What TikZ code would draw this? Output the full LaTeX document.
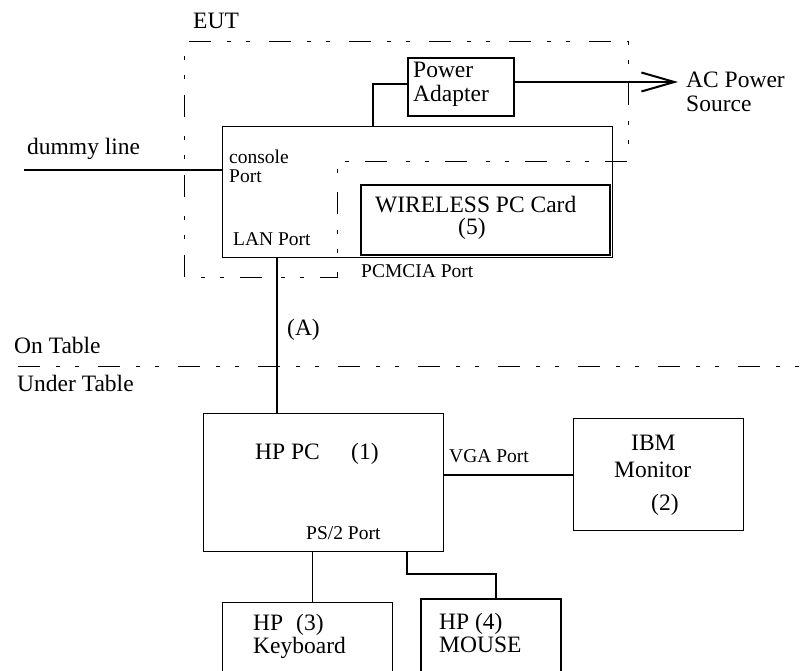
\documentclass[tikz,border=0pt]{standalone}
\usepackage{fontspec}
\setmainfont{Liberation Serif}
\usetikzlibrary{arrows.meta}
\begin{document}
\begin{tikzpicture}[x=1pt,y=-1pt,
  box/.style={draw, line width=1pt, inner sep=0pt, anchor=north west},
  thickbox/.style={box, line width=2pt},
  wire/.style={line width=2pt},
  thinwire/.style={line width=1pt},
  bigtxt/.style={anchor=base west, inner sep=0pt, font=\fontsize{23.5}{24}\selectfont},
  smalltxt/.style={anchor=base west, inner sep=0pt, font=\fontsize{19.5}{20}\selectfont},
  ddot/.style={line width=1pt, dash pattern=on 22pt off 16pt on 4pt off 15pt on 4pt off 19pt}
]
\clip (0,0) rectangle (811,671);

% boxes
\node[box, minimum width=390pt, minimum height=131pt] (eut) at (222,126) {};
\node[thickbox, minimum width=106pt, minimum height=58pt] (adapter) at (407,57) {};
\node[thickbox, minimum width=249pt, minimum height=70pt] (card) at (360,184) {};
\node[box, minimum width=240pt, minimum height=138pt] (pc) at (203,413) {};
\node[box, minimum width=170pt, minimum height=112pt] (monitor) at (573,418) {};
\node[box, minimum width=170pt, minimum height=90pt] (kbd) at (222,602) {};
\node[thickbox, minimum width=140pt, minimum height=90pt] (mouse) at (420,598) {};

% EUT boundary
\draw[ddot] (184,277) -- (184,42) -- (628,42) -- (628,162) -- (337,162) -- (337,277) -- cycle;

% table line
\coordinate (tl) at (18,366);
\coordinate (tr) at (811,366);
\draw[ddot] (tl) -- (tr);

% texts
\node[bigtxt] (teut) at (193,29) {EUT};
\node[bigtxt] (tpow1) at (413,78) {Power};
\node[bigtxt] (tpow2) at (413,102) {Adapter};
\node[bigtxt] (tac1) at (686,88) {AC Power};
\node[bigtxt] (tac2) at (686,112) {Source};
\node[bigtxt] (tdummy) at (27,155) {dummy line};
\node[smalltxt] (tcons1) at (229,164) {console};
\node[smalltxt] (tcons2) at (229,183) {Port};
\node[smalltxt] (tlan) at (233,245) {LAN Port};
\node[bigtxt] (tcard1) at (375,213) {WIRELESS PC Card};
\node[bigtxt] (tcard2) at (458,235) {(5)};
\node[smalltxt] (tpcmcia) at (361,277) {PCMCIA Port};
\node[bigtxt] (tA) at (287,335) {(A)};
\node[bigtxt] (ton) at (14,353) {On Table};
\node[bigtxt] (tunder) at (17,391) {Under Table};
\node[bigtxt] (tpc) at (255,459) {HP PC};
\node[bigtxt] (tpc1) at (351,459) {(1)};
\node[smalltxt] (tvga) at (449,462) {VGA Port};
\node[smalltxt] (tps2) at (306,539) {PS/2 Port};
\node[bigtxt] (tibm) at (631,450) {IBM};
\node[bigtxt] (tmon) at (614,477) {Monitor};
\node[bigtxt] (tmon2) at (651,510) {(2)};
\node[bigtxt] (tkb1) at (253,630) {HP};
\node[bigtxt] (tkb3) at (296,630) {(3)};
\node[bigtxt] (tkb2) at (253,653) {Keyboard};
\node[bigtxt] (tms1) at (439,629) {HP (4)};
\node[bigtxt] (tms2) at (439,652) {MOUSE};

% connectors
\coordinate (adx) at (373,0);
\draw[wire] ([yshift=3pt]adapter.west) -| (eut.north -| adx);
\coordinate (acpt) at (678,82);
\draw[wire, -{Straight Barb[length=33pt, width=19pt, line width=2pt]}] (adapter.east |- acpt) -- (acpt);
\coordinate (dumL) at (24,170);
\draw[wire] (dumL) -- (eut.west |- dumL);
\coordinate (lanx) at (277,0);
\draw[wire] (eut.south -| lanx) -- (pc.north -| lanx);
\draw[wire] (monitor.west) -- (monitor.west -| pc.east);
\coordinate (kbx) at (312,0);
\draw[thinwire] (pc.south -| kbx) -- (kbd.north -| kbx);
\coordinate (m1) at (407,574);
\coordinate (m2) at (496,574);
\draw[wire] (pc.south -| m1) -- (m1) -- (m2) -- (mouse.north -| m2);
\end{tikzpicture}
\end{document}
